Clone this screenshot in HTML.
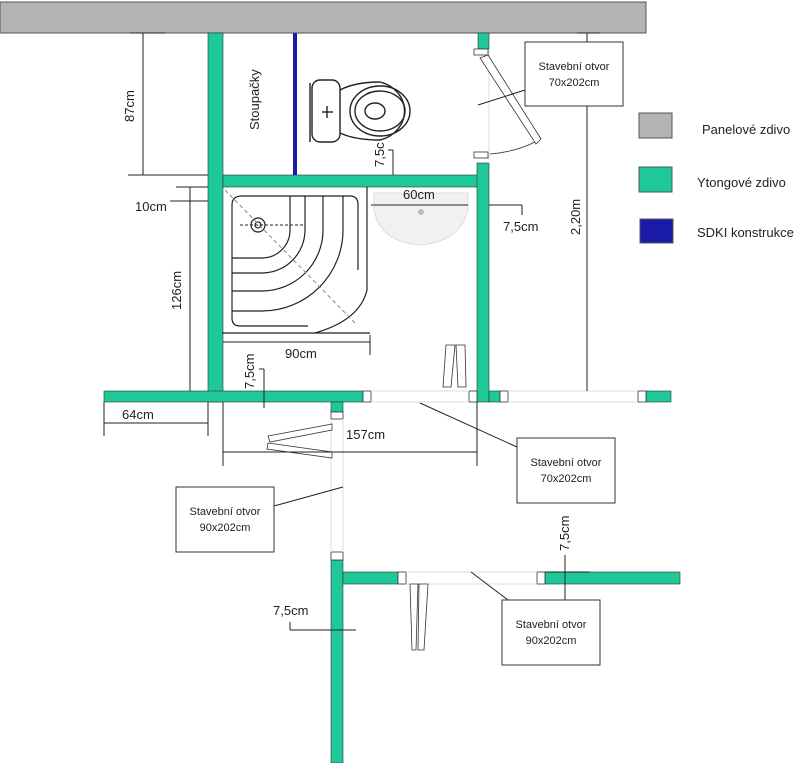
<!DOCTYPE html>
<html><head><meta charset="utf-8"><style>
html,body{margin:0;padding:0;background:#fff;}
svg{display:block;font-family:"Liberation Sans",sans-serif;}
</style></head><body>
<svg width="800" height="763" viewBox="0 0 800 763" xmlns="http://www.w3.org/2000/svg">
<rect width="800" height="763" fill="#fff"/>
<rect x="0" y="2" width="646" height="31" fill="#b3b3b3" stroke="#555" stroke-width="1"/>
<g fill="#1fc899" stroke="#333" stroke-width="0.6">
<rect x="208" y="33" width="15" height="369"/>
<rect x="223" y="175" width="255" height="12"/>
<rect x="477" y="163" width="12" height="239"/>
<rect x="478" y="33" width="11" height="16"/>
<rect x="104" y="391" width="259" height="11"/>
<rect x="331" y="402" width="12" height="10"/>
<rect x="489" y="391" width="11" height="11"/>
<rect x="646" y="391" width="25" height="11"/>
<rect x="331" y="560" width="12" height="203"/>
<rect x="343" y="572" width="55" height="12"/>
<rect x="545" y="572" width="135" height="12"/>
</g>
<g fill="#fff" stroke="#333" stroke-width="0.8">
<rect x="363" y="391" width="8" height="11"/>
<rect x="331" y="412" width="12" height="7"/>
<rect x="500" y="391" width="8" height="11"/>
<rect x="638" y="391" width="8" height="11"/>
<rect x="331" y="552" width="12" height="8"/>
<rect x="398" y="572" width="8" height="12"/>
<rect x="537" y="572" width="8" height="12"/>
<rect x="469" y="391" width="8" height="11"/>
</g>
<g stroke="#ddd" stroke-width="1" fill="none">
<line x1="371" y1="391" x2="469" y2="391"/><line x1="371" y1="402" x2="469" y2="402"/>
<line x1="508" y1="391" x2="638" y2="391"/><line x1="508" y1="402" x2="638" y2="402"/>
<line x1="331" y1="419" x2="331" y2="552"/><line x1="343" y1="419" x2="343" y2="552"/>
<line x1="406" y1="572" x2="537" y2="572"/><line x1="406" y1="584" x2="537" y2="584"/>
<line x1="489" y1="49" x2="489" y2="160"/>
</g>
<rect x="293" y="33" width="4" height="142" fill="#1a1aa8"/>
<g stroke="#333" stroke-width="0.8" fill="#fff">
<rect x="474" y="49" width="14" height="6"/>
<rect x="474" y="152" width="14" height="6"/>
<polygon points="480,58 488,55 541,139 536,144"/>
</g>
<path d="M490 154 Q515 152 535 142" stroke="#333" fill="none" stroke-width="0.8"/>
<g stroke="#333" stroke-width="0.8" fill="#fff">
<polygon points="446,345 455,345 451,387 443,387"/>
<polygon points="456,345 465,345 466,387 458,387"/>
<polygon points="268,436 332,424 332,430 270,442"/>
<polygon points="268,443 332,452 332,458 267,449"/>
<polygon points="410,584 418,584 416,650 412,650"/>
<polygon points="419,584 428,584 424,650 418,650"/>
</g>
<g stroke="#222" stroke-width="1.4" fill="none">
<line x1="310" y1="83" x2="310" y2="142"/>
<rect x="312" y="80" width="28" height="62" rx="8"/>
<path d="M340 90 Q355 82 380 82 A33 30 0 0 1 380 140 Q355 140 340 133"/>
<ellipse cx="380" cy="111" rx="30" ry="25"/>
<ellipse cx="380" cy="111" rx="25" ry="20"/>
<ellipse cx="375" cy="111" rx="10" ry="8"/>
<line x1="322" y1="112" x2="333" y2="112"/><line x1="327" y1="106" x2="327" y2="118"/>
</g>
<g stroke="#222" stroke-width="1.2" fill="none">
<path d="M232 205 Q232 196 242 196 L350 196 Q358 196 358 205 L358 270"/>
<path d="M232 205 L232 318 Q232 326 240 326 L308 326"/>
<path d="M367 187 L367 290 Q360 320 315 333"/>
<line x1="222" y1="333" x2="370" y2="333"/>
<path d="M290 196 L290 230 A28 28 0 0 1 262 258 L232 258"/>
<path d="M305 196 L305 230 A43 43 0 0 1 262 273 L232 273"/>
<path d="M323 196 L323 230 A61 61 0 0 1 262 291 L232 291"/>
<path d="M343 196 L343 230 A81 81 0 0 1 262 311 L232 311"/>
<circle cx="258" cy="225" r="7"/><circle cx="258" cy="225" r="3"/>
</g>
<line x1="225" y1="190" x2="357" y2="325" stroke="#888" stroke-width="1" stroke-dasharray="4,3"/>
<line x1="240" y1="225" x2="305" y2="225" stroke="#222" stroke-width="1" stroke-dasharray="3,2"/>
<path d="M374 193 L468 193 L468 210 Q460 242 420 245 Q380 242 374 210 Z" fill="#f1f1f1" stroke="#ddd"/>
<circle cx="421" cy="212" r="3" fill="#bbb"/>
<g stroke="#222" stroke-width="1" fill="none">
<line x1="143" y1="33" x2="143" y2="175"/><line x1="128" y1="175" x2="208" y2="175"/><line x1="130" y1="33" x2="165" y2="33"/>
<line x1="190" y1="187" x2="190" y2="391"/><line x1="176" y1="187" x2="208" y2="187"/>
<line x1="170" y1="201" x2="208" y2="201"/>
<line x1="104" y1="423" x2="208" y2="423"/><line x1="104" y1="402" x2="104" y2="436"/><line x1="208" y1="402" x2="208" y2="436"/>
<line x1="223" y1="342" x2="370" y2="342"/><line x1="370" y1="335" x2="370" y2="355"/>
<line x1="223" y1="452" x2="477" y2="452"/><line x1="223" y1="402" x2="223" y2="466"/><line x1="477" y1="402" x2="477" y2="466"/>
<line x1="264" y1="369" x2="264" y2="408"/><line x1="259" y1="369" x2="264" y2="369"/>
<line x1="393" y1="150" x2="393" y2="175"/><line x1="388" y1="150" x2="393" y2="150"/>
<line x1="371" y1="205" x2="468" y2="205"/>
<line x1="489" y1="205" x2="522" y2="205"/><line x1="522" y1="205" x2="522" y2="215"/>
<line x1="587" y1="33" x2="587" y2="391"/><line x1="577" y1="33" x2="600" y2="33"/>
<line x1="565" y1="555" x2="565" y2="600"/><line x1="545" y1="572" x2="590" y2="572"/>
<line x1="290" y1="630" x2="356" y2="630"/><line x1="290" y1="630" x2="290" y2="622"/>
</g>
<g stroke="#222" stroke-width="1">
<line x1="478" y1="105" x2="525" y2="90"/>
<line x1="420" y1="403" x2="517" y2="447"/>
<line x1="274" y1="506" x2="343" y2="487"/>
<line x1="471" y1="572" x2="508" y2="600"/>
</g>
<g fill="#fff" stroke="#333" stroke-width="1">
<rect x="525" y="42" width="98" height="64"/>
<rect x="517" y="438" width="98" height="65"/>
<rect x="176" y="487" width="98" height="65"/>
<rect x="502" y="600" width="98" height="65"/>
</g>
<g font-size="11" fill="#222" text-anchor="middle">
<text x="574" y="70">Stavební otvor</text><text x="574" y="86">70x202cm</text>
<text x="566" y="466">Stavební otvor</text><text x="566" y="482">70x202cm</text>
<text x="225" y="515">Stavební otvor</text><text x="225" y="531">90x202cm</text>
<text x="551" y="628">Stavební otvor</text><text x="551" y="644">90x202cm</text>
</g>
<rect x="639" y="113" width="33" height="25" fill="#b3b3b3" stroke="#555"/>
<rect x="639" y="167" width="33" height="25" fill="#1fc899" stroke="#555"/>
<rect x="640" y="219" width="33" height="24" fill="#1a1aa8" stroke="#555"/>
<g font-size="13" fill="#222">
<text x="702" y="134">Panelové zdivo</text>
<text x="697" y="187">Ytongové zdivo</text>
<text x="697" y="237">SDKI konstrukce</text>
</g>
<g font-size="13" fill="#222">
<text x="135" y="211">10cm</text>
<text x="122" y="419">64cm</text>
<text x="285" y="358">90cm</text>
<text x="346" y="439">157cm</text>
<text x="403" y="199">60cm</text>
<text x="503" y="231">7,5cm</text>
<text x="273" y="615">7,5cm</text>
<text transform="translate(134,122) rotate(-90)">87cm</text>
<text transform="translate(181,310) rotate(-90)">126cm</text>
<text transform="translate(259,130) rotate(-90)">Stoupačky</text>
<text transform="translate(254,389) rotate(-90)">7,5cm</text>
<text transform="translate(384,167) rotate(-90)">7,5c</text>
<text transform="translate(580,235) rotate(-90)">2,20m</text>
<text transform="translate(569,551) rotate(-90)">7,5cm</text>
</g>
</svg>
</body></html>
